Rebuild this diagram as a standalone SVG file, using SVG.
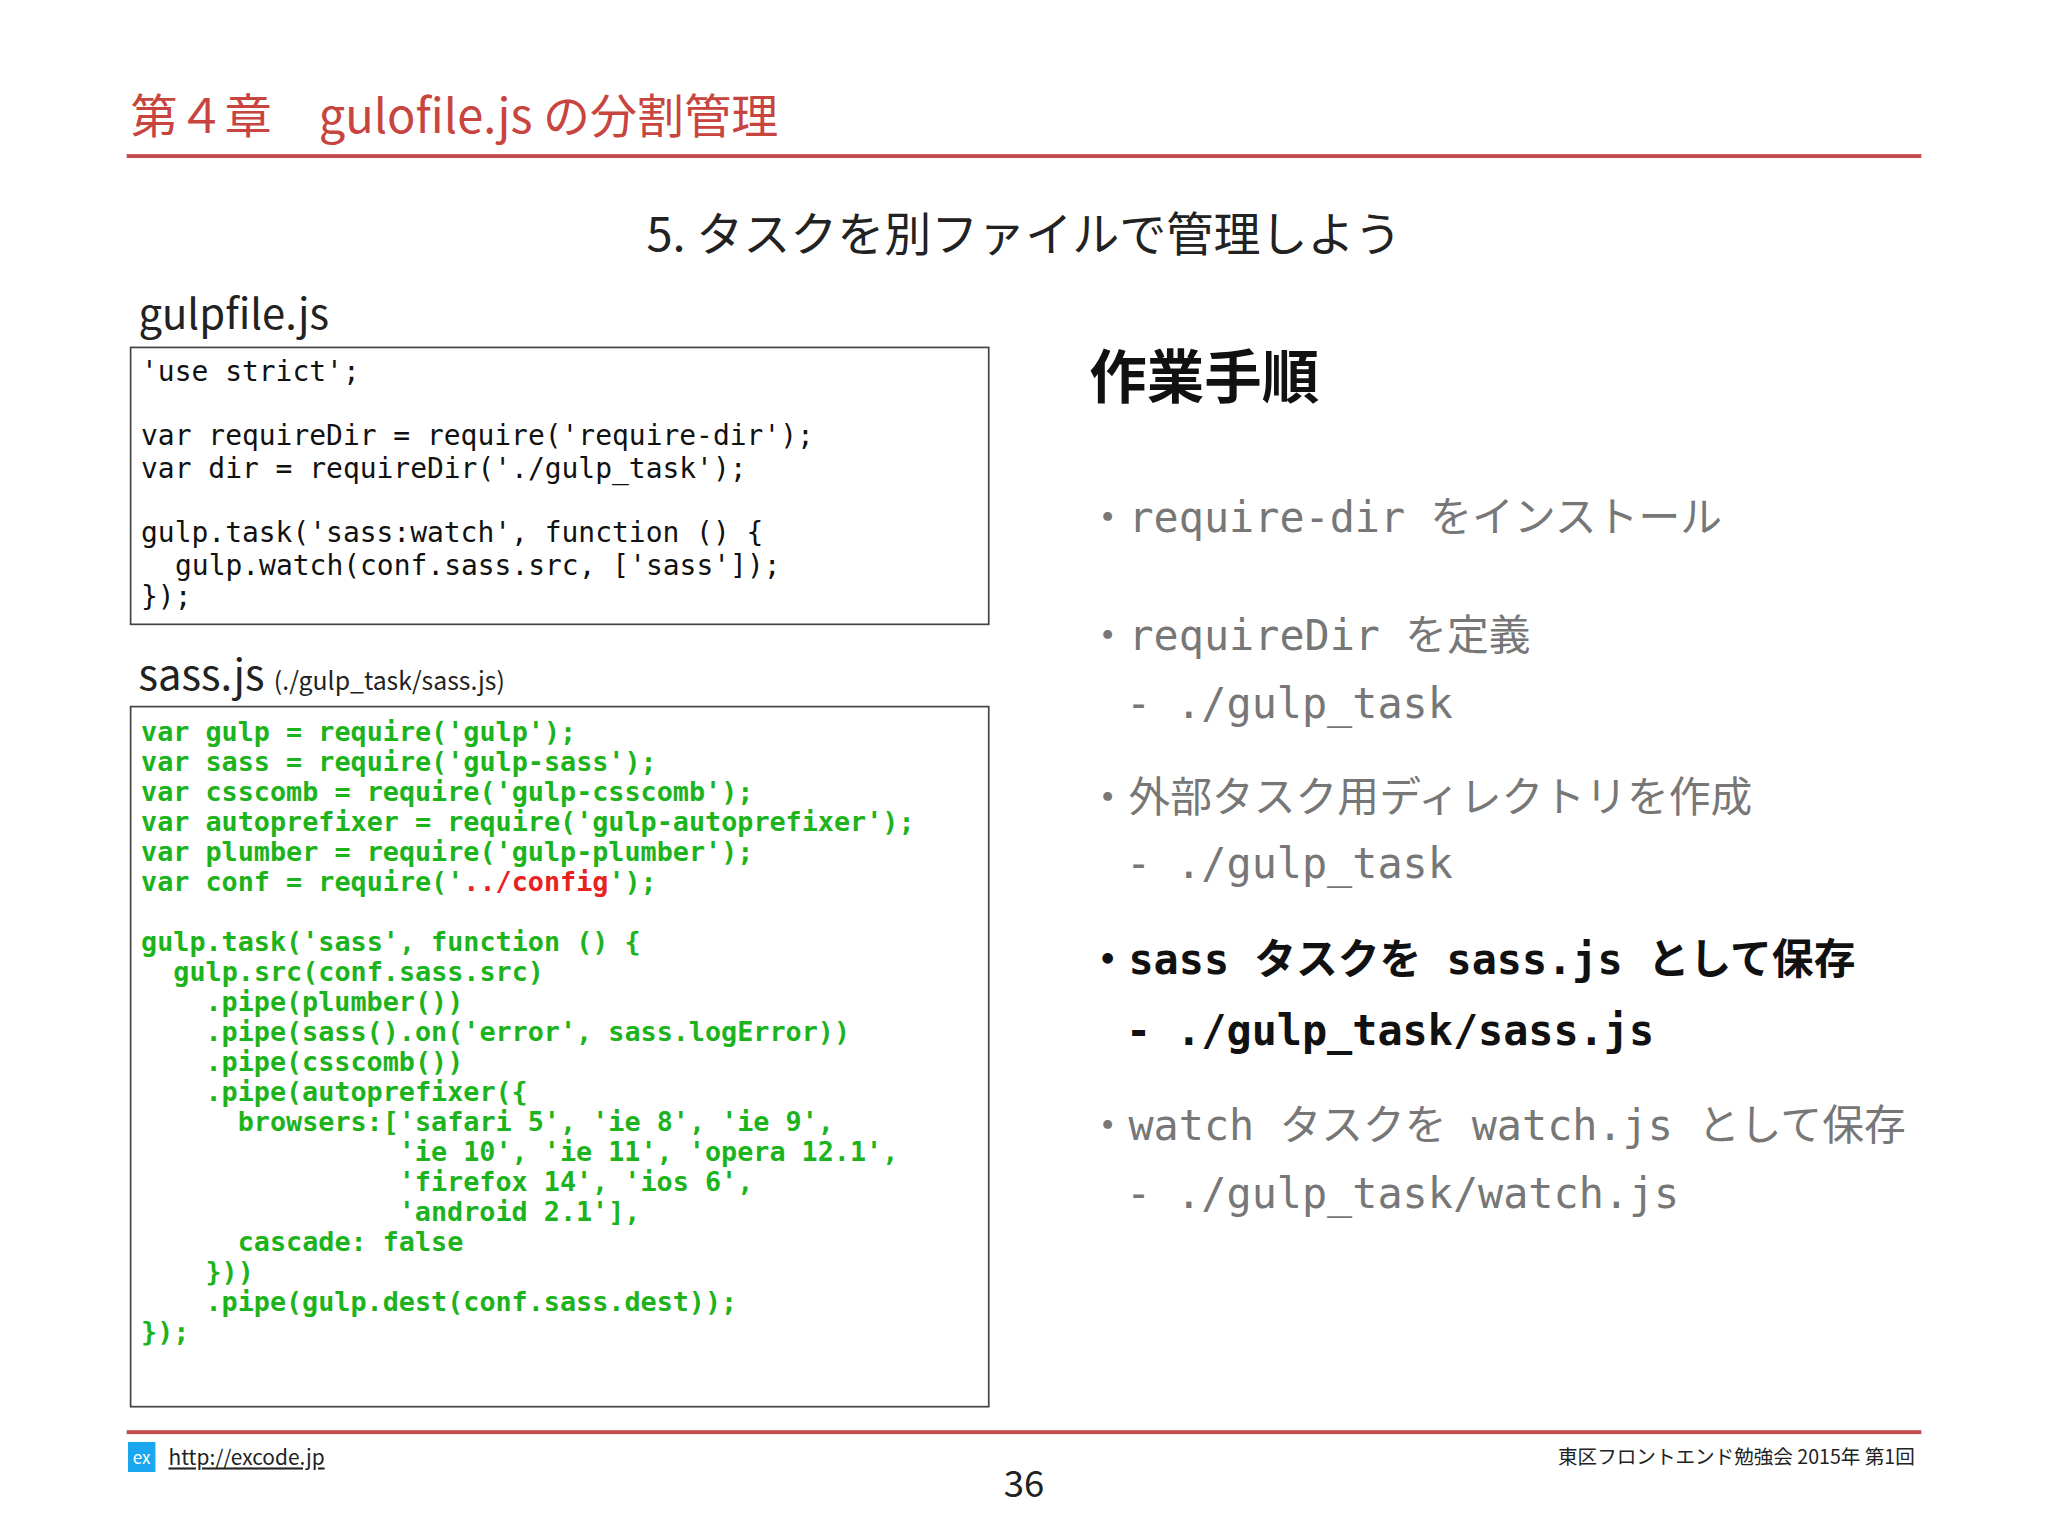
<svg xmlns="http://www.w3.org/2000/svg" width="2048" height="1536" viewBox="0 0 2048 1536">
<style>
.t{font-family:"Noto Sans CJK JP","Liberation Sans",sans-serif}
.m{font-family:"DejaVu Sans Mono","Liberation Mono","Noto Sans CJK JP",monospace}
.c1{font-size:21.4px;fill:#111}
.c2{font-size:20.5px;font-weight:bold;fill:#1db31d}
.g{fill:#777}
.box{fill:#fff;stroke:#444;stroke-width:1.3}
</style>
<rect width="2048" height="1536" fill="#fff"/>
<g transform="scale(1.30612)">
<g id="header">
<text class="t" x="100" y="102" font-size="36" fill="#c8453f">第４章　gulofile.js の分割管理</text>
<rect x="97" y="118" width="1374" height="3" fill="#c44b4b"/>
<text class="t" x="784" y="192" font-size="36" fill="#222" text-anchor="middle">5. タスクを別ファイルで管理しよう</text>
</g>
<g id="gulpfile">
<text class="t" x="106" y="252" font-size="32" fill="#222">gulpfile.js</text>
<rect class="box" x="100" y="266" width="657" height="212"/>
<g class="m c1">
<text x="108" y="292">'use strict';</text>
<text x="108" y="341">var requireDir = require('require-dir');</text>
<text x="108" y="366">var dir = requireDir('./gulp_task');</text>
<text x="108" y="415">gulp.task('sass:watch', function () {</text>
<text x="134" y="440">gulp.watch(conf.sass.src, ['sass']);</text>
<text x="108" y="464">});</text>
</g>
</g>
<g id="sassjs">
<text class="t" x="106" y="528" font-size="32" fill="#222">sass.js <tspan font-size="19">(./gulp_task/sass.js)</tspan></text>
<rect class="box" x="100" y="541" width="657" height="536"/>
<g class="m c2">
<text x="108" y="567">var gulp = require('gulp');</text>
<text x="108" y="590">var sass = require('gulp-sass');</text>
<text x="108" y="613">var csscomb = require('gulp-csscomb');</text>
<text x="108" y="636">var autoprefixer = require('gulp-autoprefixer');</text>
<text x="108" y="659">var plumber = require('gulp-plumber');</text>
<text x="108" y="682">var conf = require('<tspan fill="#e8231f">../config</tspan>');</text>
<text x="108" y="728">gulp.task('sass', function () {</text>
<text x="132.7" y="751">gulp.src(conf.sass.src)</text>
<text x="157.3" y="774">.pipe(plumber())</text>
<text x="157.3" y="797">.pipe(sass().on('error', sass.logError))</text>
<text x="157.3" y="820">.pipe(csscomb())</text>
<text x="157.3" y="843">.pipe(autoprefixer({</text>
<text x="182" y="866">browsers:['safari 5', 'ie 8', 'ie 9',</text>
<text x="305.3" y="889">'ie 10', 'ie 11', 'opera 12.1',</text>
<text x="305.3" y="912">'firefox 14', 'ios 6',</text>
<text x="305.3" y="935">'android 2.1'],</text>
<text x="182" y="958">cascade: false</text>
<text x="157.3" y="981">}))</text>
<text x="157.3" y="1004">.pipe(gulp.dest(conf.sass.dest));</text>
<text x="108" y="1027">});</text>
</g>
</g>
<g id="steps">
<text class="t" x="834" y="305" font-size="44" font-weight="bold" fill="#111">作業手順</text>
<g class="m" font-size="32">
<text class="g" x="832" y="407">・require-dir をインストール</text>
<text class="g" x="832" y="498">・requireDir を定義</text>
<text class="g" x="862" y="550">- ./gulp_task</text>
<text class="g" x="832" y="622">・外部タスク用ディレクトリを作成</text>
<text class="g" x="862" y="672">- ./gulp_task</text>
<text x="832" y="746" font-weight="bold" fill="#111">・sass タスクを sass.js として保存</text>
<text x="862" y="800" font-weight="bold" fill="#111">- ./gulp_task/sass.js</text>
<text class="g" x="832" y="873">・watch タスクを watch.js として保存</text>
<text class="g" x="862" y="925">- ./gulp_task/watch.js</text>
</g>
</g>
<g id="footer">
<rect x="97" y="1095" width="1374" height="3" fill="#c44b4b"/>
<rect x="98" y="1104" width="21" height="23" fill="#1aa7f0"/>
<text class="t" x="108.5" y="1121" font-size="13" fill="#fff" text-anchor="middle">ex</text>
<text class="t" x="129" y="1122" font-size="16" fill="#222" text-decoration="underline">http://excode.jp</text>
<text class="t" x="1466" y="1121" font-size="15" fill="#222" text-anchor="end">東区フロントエンド勉強会 2015年 第1回</text>
<text class="t" x="784" y="1146" font-size="28" fill="#222" text-anchor="middle">36</text>
</g>
</g>
</svg>
